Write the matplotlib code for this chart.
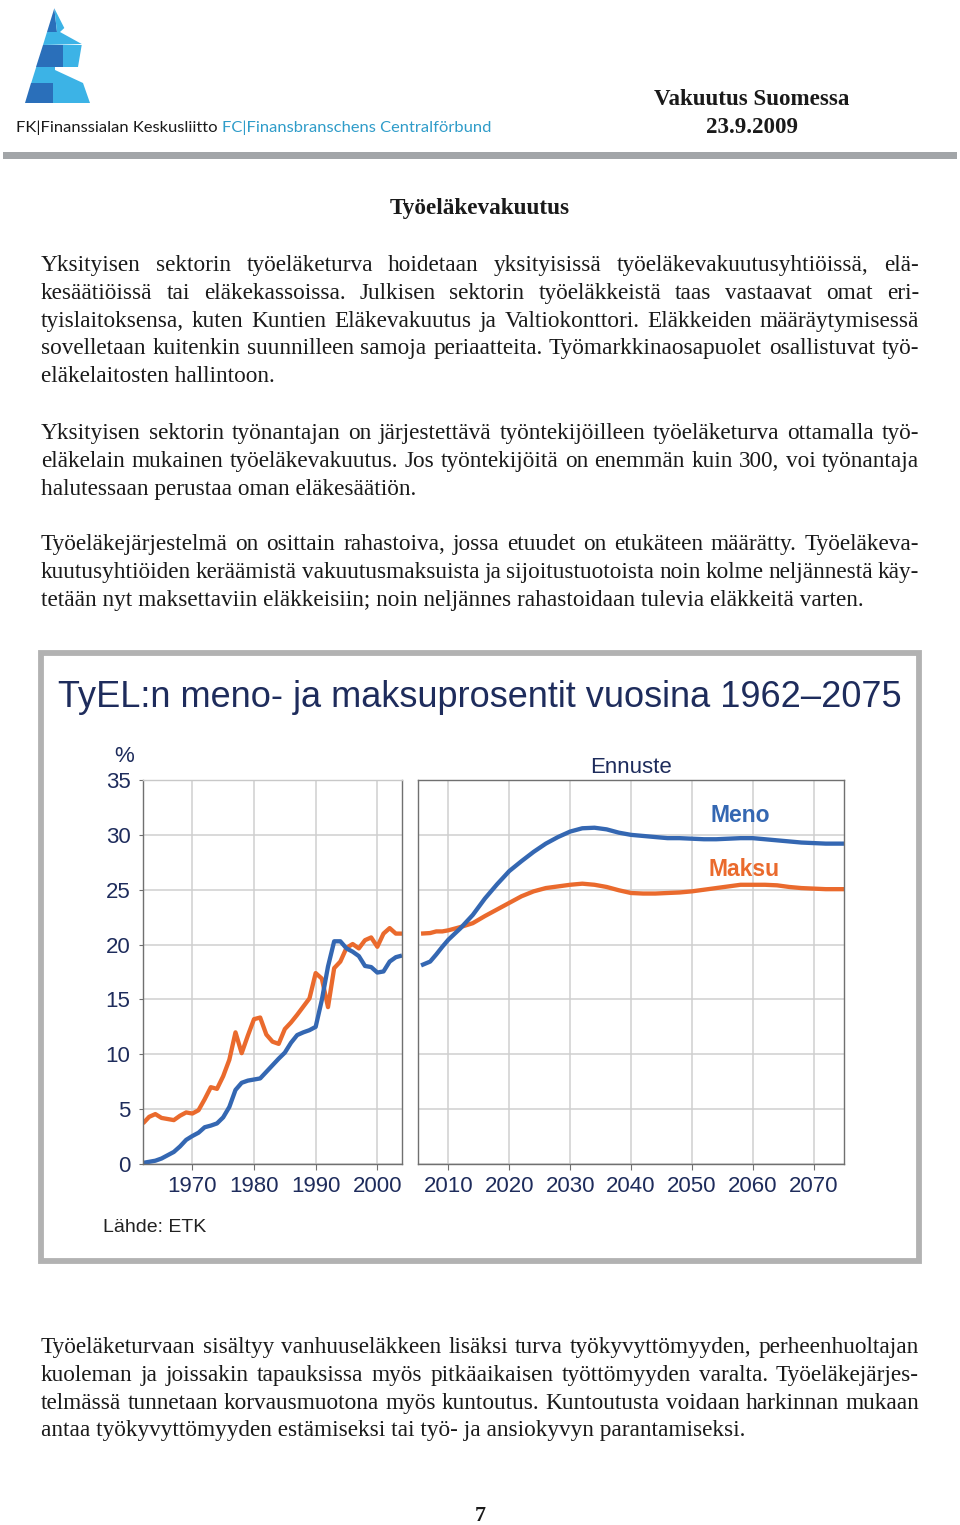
import numpy as np
import matplotlib
matplotlib.use('agg')
import matplotlib.pyplot as plt
from matplotlib.patches import Polygon, Rectangle

# historic (1962-2004)
years_hist = list(range(1962, 2005))
meno_hist = [0.1, 0.2, 0.3, 0.5, 0.8, 1.1, 1.6, 2.2, 2.55, 2.85,
             3.35, 3.5, 3.7, 4.25, 5.2, 6.75, 7.4, 7.6, 7.7, 7.8,
             8.4, 9.0, 9.6, 10.15, 11.05, 11.75, 12.0, 12.2, 12.5, 14.95,
             18.0, 20.3, 20.3, 19.65, 19.35, 18.95, 18.05, 17.95, 17.45, 17.55,
             18.45, 18.85, 19.0]
maksu_hist = [3.7, 4.3, 4.55, 4.2, 4.1, 4.0, 4.4, 4.7, 4.6, 4.9,
              5.9, 7.0, 6.85, 8.0, 9.5, 12.0, 10.1, 11.7, 13.2, 13.35,
              11.8, 11.15, 10.95, 12.3, 12.9, 13.6, 14.35, 15.1, 17.4, 16.9,
              14.3, 17.85, 18.45, 19.7, 20.05, 19.65, 20.4, 20.65, 19.8, 21.0,
              21.5, 21.0, 21.0]

# projection (Ennuste)
years_proj = [2005.5, 2007, 2008, 2009, 2010] + list(range(2012, 2075, 2)) + [2075]
meno_proj = [18.1, 18.45, 19.1, 19.8, 20.45,
             21.5, 22.7, 24.2, 25.5, 26.7, 27.6, 28.45, 29.2, 29.8, 30.3,
             30.6, 30.65, 30.5, 30.2, 30.0, 29.9, 29.8, 29.7, 29.7, 29.65,
             29.6, 29.6, 29.65, 29.7, 29.7, 29.6, 29.5, 29.4, 29.3, 29.25,
             29.2, 29.2, 29.2]
maksu_proj = [21.0, 21.05, 21.2, 21.2, 21.3,
              21.6, 21.95, 22.6, 23.2, 23.8, 24.4, 24.85, 25.15, 25.3, 25.45,
              25.55, 25.45, 25.25, 24.95, 24.7, 24.65, 24.65, 24.7, 24.75, 24.85,
              25.0, 25.15, 25.3, 25.45, 25.45, 25.45, 25.4, 25.25, 25.15, 25.1,
              25.05, 25.05, 25.05]

y_ticks = [0, 5, 10, 15, 20, 25, 30, 35]
x_ticks_left = [1970, 1980, 1990, 2000]
x_ticks_right = [2010, 2020, 2030, 2040, 2050, 2060, 2070]

para1 = ["Yksityisen sektorin työeläketurva hoidetaan yksityisissä työeläkevakuutusyhtiöissä, elä-",
         "kesäätiöissä tai eläkekassoissa. Julkisen sektorin työeläkkeistä taas vastaavat omat eri-",
         "tyislaitoksensa, kuten Kuntien Eläkevakuutus ja Valtiokonttori. Eläkkeiden määräytymisessä",
         "sovelletaan kuitenkin suunnilleen samoja periaatteita. Työmarkkinaosapuolet osallistuvat työ-",
         "eläkelaitosten hallintoon."]
para2 = ["Yksityisen sektorin työnantajan on järjestettävä työntekijöilleen työeläketurva ottamalla työ-",
         "eläkelain mukainen työeläkevakuutus. Jos työntekijöitä on enemmän kuin 300, voi työnantaja",
         "halutessaan perustaa oman eläkesäätiön."]
para3 = ["Työeläkejärjestelmä on osittain rahastoiva, jossa etuudet on etukäteen määrätty. Työeläkeva-",
         "kuutusyhtiöiden keräämistä vakuutusmaksuista ja sijoitustuotoista noin kolme neljännestä käy-",
         "tetään nyt maksettaviin eläkkeisiin; noin neljännes rahastoidaan tulevia eläkkeitä varten."]
para4 = ["Työeläketurvaan sisältyy vanhuuseläkkeen lisäksi turva työkyvyttömyyden, perheenhuoltajan",
         "kuoleman ja joissakin tapauksissa myös pitkäaikaisen työttömyyden varalta. Työeläkejärjes-",
         "telmässä tunnetaan korvausmuotona myös kuntoutus. Kuntoutusta voidaan harkinnan mukaan",
         "antaa työkyvyttömyyden estämiseksi tai työ- ja ansiokyvyn parantamiseksi."]

BLUE = '#3467b2'
ORANGE = '#ea6a2d'
NAVY = '#1e2c5c'
INK = '#1a1a1a'
SERIF = 'Liberation Serif'
SANS = 'Liberation Sans'
BODY = 16.75

W, H = 960, 1525
fig = plt.figure(figsize=(W / 100, H / 100), dpi=100)
fig.patch.set_facecolor('white')

# page layer in pixel coordinates
pg = fig.add_axes([0, 0, 1, 1])
pg.set_xlim(0, W)
pg.set_ylim(H, 0)
pg.axis('off')
renderer = fig.canvas.get_renderer()


def text_block(lines, y0, x0=41, x1=919, step=27.8):
    for i, line in enumerate(lines):
        y = y0 + i * step
        if i == len(lines) - 1:
            pg.text(x0, y, line, family=SERIF, fontsize=BODY, va='baseline', color=INK)
            continue
        # justified line: spread words between margins
        words = line.split()
        texts = [pg.text(0, y, w, family=SERIF, fontsize=BODY, va='baseline', color=INK)
                 for w in words]
        widths = [t.get_window_extent(renderer).width for t in texts]
        gap = (x1 - x0 - sum(widths)) / (len(words) - 1)
        x = x0
        for t, w in zip(texts, widths):
            t.set_x(x)
            x += w + gap


# logo
dark, light = '#2a6fba', '#3cb3e6'
logo = [
    (dark, [(54.3, 8.3), (57, 32), (47, 32)]),
    (light, [(54.3, 8.3), (64.3, 28), (60, 32), (57, 32)]),
    (light, [(47, 32), (60, 32), (81.7, 44), (43, 45)]),
    (dark, [(43, 45), (63, 45), (63, 67), (36.2, 67)]),
    (light, [(63, 45), (81.7, 45), (78, 67), (63, 67)]),
    (light, [(36.2, 67), (55, 67), (55, 70), (83, 83), (31.2, 83)]),
    (dark, [(31.2, 83), (53, 83), (53, 103), (25, 103)]),
    (light, [(53, 83), (83, 83), (90, 103), (53, 103)]),
]
for c, pts in logo:
    pg.add_patch(Polygon(pts, closed=True, facecolor=c, edgecolor='none'))

t1 = pg.text(16, 132, "FK|Finanssialan Keskusliitto ", family='Lato', fontsize=11.85,
             va='baseline', color=INK)
w1 = t1.get_window_extent(renderer).width
pg.text(16 + w1, 132, "FC|Finansbranschens Centralförbund", family='Lato', fontsize=11.85,
        va='baseline', color='#2f9cc9')

pg.text(752, 105, "Vakuutus Suomessa", family=SERIF, fontsize=16.6, fontweight='bold',
        ha='center', va='baseline', color=INK)
pg.text(752, 133, "23.9.2009", family=SERIF, fontsize=16.6, fontweight='bold',
        ha='center', va='baseline', color=INK)
pg.add_patch(Rectangle((3, 152), 954, 7, facecolor='#a2a5a8', edgecolor='none'))

pg.text(480, 214, "Työeläkevakuutus", family=SERIF, fontsize=BODY, fontweight='bold',
        ha='center', va='baseline', color=INK)

text_block(para1, 271)
text_block(para2, 439)
text_block(para3, 550)
text_block(para4, 1353)

pg.text(480, 1521, "7", family=SERIF, fontsize=16, fontweight='bold', ha='center',
        va='baseline', color=INK)

# chart frame
pg.add_patch(Rectangle((41, 652.5), 877.5, 608.5, facecolor='white',
                       edgecolor='#b2b2b2', linewidth=4.2))
pg.text(58, 707, "TyEL:n meno- ja maksuprosentit vuosina 1962–2075", family=SANS,
        fontsize=26, va='baseline', color=NAVY)
pg.text(103, 1232, "Lähde: ETK", family=SANS, fontsize=14, va='baseline', color='#222222')


def px_axes(x0, x1, y0, y1):
    return fig.add_axes([x0 / W, 1 - y1 / H, (x1 - x0) / W, (y1 - y0) / H])


ax1 = px_axes(143, 402, 780, 1164)
ax2 = px_axes(418, 844, 780, 1164)

for ax, xt in ((ax1, x_ticks_left), (ax2, x_ticks_right)):
    ax.set_ylim(0, 35)
    ax.set_yticks(y_ticks)
    ax.set_xticks(xt)
    ax.grid(True, color='#cfcfcf', linewidth=1.1)
    ax.set_axisbelow(True)
    for s in ax.spines.values():
        s.set_color('#707070')
        s.set_linewidth(1.0)
    ax.tick_params(axis='x', length=4, color='#707070', labelsize=16,
                   labelcolor=NAVY, pad=5)
    for lab in ax.get_xticklabels():
        lab.set_family(SANS)

ax1.set_xlim(1962, 2004)
ax2.set_xlim(2005, 2075)
ax1.spines['top'].set_color('#c8c8c8')
ax1.tick_params(axis='y', length=3, color='#707070', labelsize=16, labelcolor=NAVY, pad=6)
for lab in ax1.get_yticklabels():
    lab.set_family(SANS)
ax2.tick_params(axis='y', length=0, labelleft=False)

ax1.plot(years_hist, maksu_hist, color=ORANGE, linewidth=3.1, solid_capstyle='butt')
ax1.plot(years_hist, meno_hist, color=BLUE, linewidth=3.1, solid_capstyle='butt')
ax2.plot(years_proj, maksu_proj, color=ORANGE, linewidth=3.1, solid_capstyle='butt')
ax2.plot(years_proj, meno_proj, color=BLUE, linewidth=3.1, solid_capstyle='butt')

ax1.text(-0.073, 1.062, "%", transform=ax1.transAxes, ha='center', va='center',
         fontsize=16, family=SANS, color=NAVY)
ax2.set_title("Ennuste", family=SANS, fontsize=16, color=NAVY, pad=5)
ax2.text(2058, 31.8, "Meno", family=SANS, fontsize=16.5, fontweight='bold',
         color=BLUE, ha='center', va='center')
ax2.text(2058.5, 26.8, "Maksu", family=SANS, fontsize=16.5, fontweight='bold',
         color=ORANGE, ha='center', va='center')

fig.savefig("out.png", dpi=100)
